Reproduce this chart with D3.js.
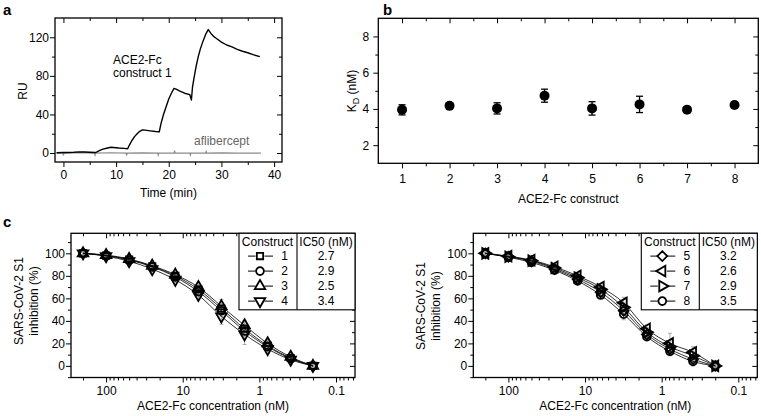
<!DOCTYPE html>
<html><head><meta charset="utf-8">
<script src="https://cdn.jsdelivr.net/npm/d3@7"></script>
<style>body{margin:0;background:#fff}</style>
</head><body>
<svg id="chart" width="761" height="416"></svg>
<script>
// ---------- DATA ----------
// Panel a: SPR sensorgram (time in min, response in RU)
const sprTime = [-1.3,0,1,2,3,4,5,6,6.3,6.8,7.5,8.2,9,9.5,10.5,11.5,12.2,12.5,13,13.5,14,14.5,15,15.5,16.5,17.5,18.2,18.5,19,19.5,20,20.5,21,21.5,22,23,24,24.3,24.5,24.8,25.2,25.6,26,26.5,27,27.5,28,28.5,29,30,31,32,33,34,35,36,37.3];
const sprConstruct1 = [0.3,0.5,0.6,0.8,1.2,1,0.8,0.6,1,2.5,4,5,6,5.8,5.2,4.8,4.5,8,13,17,20,22.5,24,23.8,23,22.3,22,30,40,48,56,62,67,66,64.5,62,60.5,55,68,78,90,100,108,116,123,128,124,121,119,115,112,110,107.5,105.5,104,102,100];
const aflTime = [-1.3,-0.1,0,0.1,3,5.9,6,6.1,9,11.9,12,12.1,15,17.9,18,18.1,21,21.1,21.2,24,24.1,24.2,27,27.1,27.2,30,33,37.5];
const aflibercept = [0,0,-2.5,0,0.5,0,-2,0,0.3,0,-2.5,0,0.2,0,-2,0,0,2.5,0,0,-2,0,0,1.5,0,0.2,0,0];
const sprXTicks = [0,10,20,30,40];
const sprYTicks = [0,40,80,120];

// Panel b: KD per construct
const kdConstructs = [1,2,3,4,5,6,7,8];
const kdValues = [3.95,4.17,4.03,4.73,4.03,4.25,3.96,4.22];
const kdErrors = [0.28,0.1,0.31,0.36,0.37,0.45,0.08,0.15];
const kdYTicks = [2,4,6,8];

// Panel c: inhibition curves
const concentrations = [200,100,50,25,12.5,6.25,3.13,1.56,0.78,0.39,0.2];
const concTicks = [100,10,1,0.1];
const inhibTicks = [0,20,40,60,80,100];
const leftConstructs = ["1","2","3","4"];
const leftIC50 = ["2.7","2.9","2.5","3.4"];
const rightConstructs = ["5","6","7","8"];
const rightIC50 = ["3.2","2.6","2.9","3.5"];
const inhib1 = [100,98,94.5,88.5,80,68,51,33,18,7,0];
const inhib2 = [100,98,94,88,79,66,49,31,17,6.5,0];
const inhib3 = [100,98.5,95,89,81,70,53,36,20,8,0];
const inhib4 = [100,97.5,93,86,76.5,63,44,28,15,5.5,0];
const inhib5 = [100,97,93,86,77,65.5,49,28,15,6,0];
const inhib6 = [100,97.5,94,88,80,70,56,33,20,12,0];
const inhib7 = [100,97,93.5,87,78.5,68,52,30,17,9,0];
const inhib8 = [100,96.5,92,85,75.5,63,46,26,13,4,0];
const err1 = [1,1,1.5,1.5,2,2.5,4,4,2.5,2,1];
const err2 = [1,1.5,1.5,2,2,3,5,5,3,2,1];
const err3 = [1,1,1.5,1.5,2.5,3,6,4,3,2.5,1];
const err4 = [1,1.5,2,2,2.5,3,7,9,4,3,1];
const err5 = [1,1.5,1.5,2,2,3,4,3,4,3,1];
const err6 = [1,1,1.5,2,2.5,3,5,3.5,9,5,1];
const err7 = [1,1.5,1.5,2,2,3,4,4,5,4,1];
const err8 = [1,1.5,2,2,2.5,3,5,3.5,4,4,1];

// ---------- DRAWING ----------
const FONT = "Liberation Sans, Arial, Helvetica, sans-serif";
const svg = d3.select("#chart").attr("font-family", FONT);
svg.append("rect").attr("width",761).attr("height",416).attr("fill","#fff");

function styleAxis(g){
  g.select(".domain").remove();
  g.attr("font-size",12).attr("font-family",FONT);
  g.selectAll("line").attr("stroke","#000").attr("stroke-width",1);
  g.selectAll("text").attr("fill","#000");
}
function frame(x, y, c){
  const xr = x.range(), yr = y.range();
  const L = Math.min(...xr), R = Math.max(...xr), B = yr[0], T = yr[1];
  const g = svg.append("g");
  g.append("g").attr("transform",`translate(0,${B})`).call(d3.axisBottom(x).tickValues(c.xMajor).tickSize(5).tickPadding(c.xpad).tickFormat(c.xfmt||(d=>String(d)))).call(styleAxis);
  g.append("g").attr("transform",`translate(0,${B})`).call(d3.axisBottom(x).tickValues(c.xMinor).tickSize(3).tickFormat("")).call(styleAxis);
  g.append("g").attr("transform",`translate(0,${T})`).call(d3.axisBottom(x).tickValues(c.xMajor).tickSize(5).tickFormat("")).call(styleAxis);
  g.append("g").attr("transform",`translate(0,${T})`).call(d3.axisBottom(x).tickValues(c.xMinor).tickSize(3).tickFormat("")).call(styleAxis);
  g.append("g").attr("transform",`translate(${L},0)`).call(d3.axisLeft(y).tickValues(c.yMajor).tickSize(5).tickPadding(c.ypad).tickFormat(d=>String(d))).call(styleAxis);
  g.append("g").attr("transform",`translate(${L},0)`).call(d3.axisLeft(y).tickValues(c.yMinor).tickSize(3).tickFormat("")).call(styleAxis);
  g.append("g").attr("transform",`translate(${R},0)`).call(d3.axisLeft(y).tickValues(c.yMajor).tickSize(5).tickFormat("")).call(styleAxis);
  g.append("g").attr("transform",`translate(${R},0)`).call(d3.axisLeft(y).tickValues(c.yMinor).tickSize(3).tickFormat("")).call(styleAxis);
  g.append("rect").attr("x",L).attr("y",T).attr("width",R-L).attr("height",B-T)
    .attr("fill","none").attr("stroke","#000").attr("stroke-width",1.3);
  return {L,R,T,B};
}
function label(txt,x,y,opt={}){
  const t = svg.append("text").attr("x",x).attr("y",y).text(txt)
    .attr("font-size",opt.size||12).attr("fill",opt.fill||"#000")
    .attr("text-anchor",opt.anchor||"start");
  if(opt.bold) t.attr("font-weight","bold");
  if(opt.rot) t.attr("transform",`rotate(-90,${x},${y})`);
  return t;
}

// ----- Panel a -----
{
  const x = d3.scaleLinear([-1.6,41.5],[55,282]);
  const y = d3.scaleLinear([-9.3,140],[162,18]);
  const line = d3.line().x(d=>x(d[0])).y(d=>y(d[1]));
  svg.append("path").datum(aflTime.map((t,i)=>[t,aflibercept[i]])).attr("d",line)
    .attr("fill","none").attr("stroke","#8a8a8a").attr("stroke-width",1.2);
  svg.append("path").datum(sprTime.map((t,i)=>[t,sprConstruct1[i]])).attr("d",line)
    .attr("fill","none").attr("stroke","#000").attr("stroke-width",1.4).attr("stroke-linejoin","round");
  frame(x,y,{xMajor:sprXTicks,xMinor:[5,15,25,35],xpad:3,yMajor:sprYTicks,yMinor:[20,60,100],ypad:1});
  label("ACE2-Fc",113,64);
  label("construct 1",113,77);
  label("aflibercept",194,145,{fill:"#666"});
  label("RU",27,91,{rot:true,anchor:"middle"});
  label("Time (min)",168.5,196.5,{anchor:"middle"});
  label("a",3,15,{bold:true,size:15});
}

// ----- Panel b -----
{
  const x = d3.scaleLinear([0.5,8.5],[378.3,758.3]);
  const y = d3.scaleLinear([1,9],[163.3,18.3]);
  const g = svg.append("g");
  kdConstructs.forEach((c,i)=>{
    const cx = x(c), y1 = y(kdValues[i]+kdErrors[i]), y2 = y(kdValues[i]-kdErrors[i]);
    g.append("line").attr("x1",cx).attr("x2",cx).attr("y1",y1).attr("y2",y2).attr("stroke","#000").attr("stroke-width",1.3);
    [y1,y2].forEach(yy=>g.append("line").attr("x1",cx-3.5).attr("x2",cx+3.5).attr("y1",yy).attr("y2",yy).attr("stroke","#000").attr("stroke-width",1.3));
    g.append("circle").attr("cx",cx).attr("cy",y(kdValues[i])).attr("r",5).attr("fill","#000");
  });
  frame(x,y,{xMajor:kdConstructs,xMinor:[1.5,2.5,3.5,4.5,5.5,6.5,7.5],xpad:6,yMajor:kdYTicks,yMinor:[3,5,7],ypad:4});
  const t = label("K",356,91,{rot:true,anchor:"middle"});
  t.text(null);
  t.append("tspan").text("K");
  t.append("tspan").attr("dy",3).attr("font-size",9).text("D");
  t.append("tspan").attr("dy",-3).text(" (nM)");
  label("ACE2-Fc construct",568.3,202.5,{anchor:"middle"});
  label("b",383,15,{bold:true,size:15});
}

// ----- Panel c -----
const symSize = 48;
const shapes = {
  "1": {type:d3.symbolSquare, rot:0, size:40},
  "2": {type:d3.symbolCircle, rot:0},
  "3": {type:d3.symbolTriangle, rot:0},
  "4": {type:d3.symbolTriangle, rot:180},
  "5": {type:d3.symbolDiamond2, rot:0, size:62},
  "6": {type:d3.symbolTriangle, rot:-90},
  "7": {type:d3.symbolTriangle, rot:90},
  "8": {type:d3.symbolCircle, rot:0}
};
function marker(g, key, cx, cy){
  const s = shapes[key];
  g.append("path").attr("d", d3.symbol().type(s.type).size(s.size||symSize)())
    .attr("transform",`translate(${cx},${cy}) rotate(${s.rot})`)
    .attr("fill","none").attr("stroke","#000").attr("stroke-width",1.8);
}
function panelC(offset, keys, series, errs, ic50, titleY){
  const x = d3.scaleLog([287,0.0565],[71+offset,355+offset]);
  const y = d3.scaleLinear([-10.3,117.8],[377.5,233.3]);
  const g = svg.append("g");
  series.forEach((s,k)=>{
    s.forEach((v,i)=>{
      const cx = x(concentrations[i]), e = errs[k][i];
      const y1 = y(v+e), y2 = y(v-e);
      g.append("line").attr("x1",cx).attr("x2",cx).attr("y1",y1).attr("y2",y2).attr("stroke","#999").attr("stroke-width",0.8);
      [y1,y2].forEach(yy=>g.append("line").attr("x1",cx-2).attr("x2",cx+2).attr("y1",yy).attr("y2",yy).attr("stroke","#999").attr("stroke-width",0.8));
    });
  });
  const line = d3.line().x((d,i)=>x(concentrations[i])).y(d=>y(d)).curve(d3.curveMonotoneX);
  series.forEach(s=>g.append("path").attr("d",line(s)).attr("fill","none").attr("stroke","#000").attr("stroke-width",0.8));
  series.forEach((s,k)=>s.forEach((v,i)=>marker(g,keys[k],x(concentrations[i]),y(v))));
  const minors = [];
  [0.01,0.1,1,10,100].forEach(p=>{for(let m=2;m<=9;m++){const v=m*p; if(v>0.0565&&v<287) minors.push(v);}});
  const f = frame(x,y,{xMajor:concTicks,xMinor:minors,xpad:3.5,yMajor:inhibTicks,yMinor:[-10,10,30,50,70,90,110],ypad:1});
  const TR = f.R, TL = TR-116, TT = f.T, TB = TT+76.5, DV = TR-58;
  const lg = svg.append("g");
  lg.append("rect").attr("x",TL).attr("y",TT).attr("width",TR-TL).attr("height",TB-TT).attr("fill","#fff").attr("stroke","#000").attr("stroke-width",1.1);
  lg.append("line").attr("x1",DV).attr("x2",DV).attr("y1",TT).attr("y2",TB).attr("stroke","#000").attr("stroke-width",1.1);
  svg.append("text").attr("x",TL+28.5).attr("y",TT+12.5).attr("text-anchor","middle").attr("font-size",12).text("Construct");
  svg.append("text").attr("x",(DV+TR)/2).attr("y",TT+12.5).attr("text-anchor","middle").attr("font-size",12).text("IC50 (nM)");
  keys.forEach((k,i)=>{
    const by = TT+27+15*i, cy = by-4.2;
    lg.append("line").attr("x1",TL+9).attr("x2",TL+34).attr("y1",cy).attr("y2",cy).attr("stroke","#000").attr("stroke-width",1);
    lg.append("rect").attr("x",TL+16.5).attr("y",cy-4).attr("width",9).attr("height",8).attr("fill","#fff");
    marker(lg,k,TL+21,cy);
    svg.append("text").attr("x",TL+45.5).attr("y",by).attr("text-anchor","middle").attr("font-size",12).text(k);
    svg.append("text").attr("x",(DV+TR)/2).attr("y",by).attr("text-anchor","middle").attr("font-size",12).text(ic50[i]);
  });
  label("SARS-CoV-2 S1",22.6+offset,titleY,{rot:true,anchor:"middle"});
  label("inhibition (%)",38+offset,titleY,{rot:true,anchor:"middle"});
  label("ACE2-Fc concentration (nM)",(f.L+f.R)/2,410,{anchor:"middle"});
}
panelC(0, leftConstructs, [inhib1,inhib2,inhib3,inhib4],[err1,err2,err3,err4], leftIC50, 301);
panelC(402.3, rightConstructs, [inhib5,inhib6,inhib7,inhib8],[err5,err6,err7,err8], rightIC50, 306);
label("c",3,227,{bold:true,size:15});
</script>
</body></html>
